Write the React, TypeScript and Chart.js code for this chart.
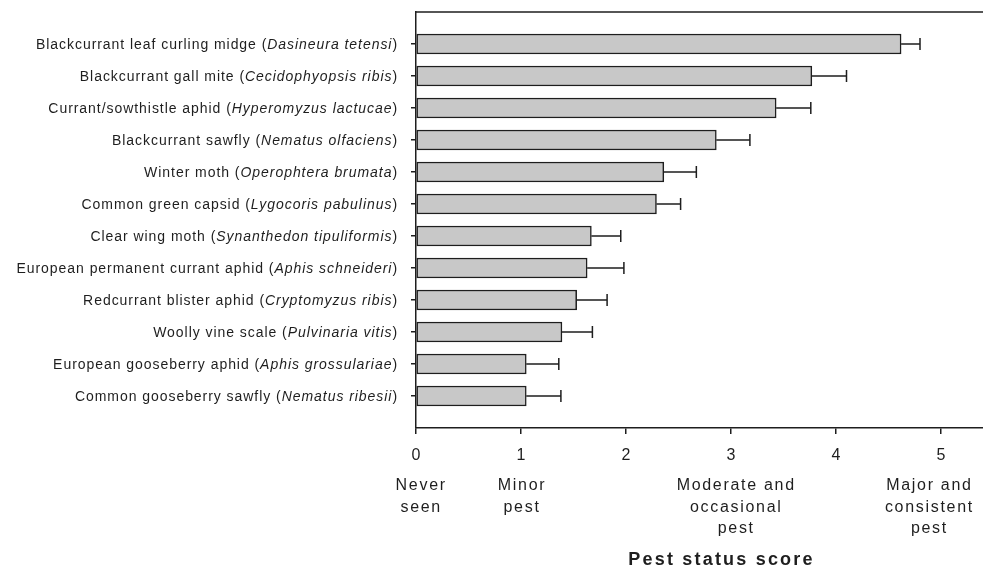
import { useEffect, useRef } from "react";
import { Chart, registerables } from "chart.js";

Chart.register(...registerables);

const commonNames = [
  "Blackcurrant leaf curling midge",
  "Blackcurrant gall mite",
  "Currant/sowthistle aphid",
  "Blackcurrant sawfly",
  "Winter moth",
  "Common green capsid",
  "Clear wing moth",
  "European permanent currant aphid",
  "Redcurrant blister aphid",
  "Woolly vine scale",
  "European gooseberry aphid",
  "Common gooseberry sawfly",
];
const speciesNames = [
  "Dasineura tetensi",
  "Cecidophyopsis ribis",
  "Hyperomyzus lactucae",
  "Nematus olfaciens",
  "Operophtera brumata",
  "Lygocoris pabulinus",
  "Synanthedon tipuliformis",
  "Aphis schneideri",
  "Cryptomyzus ribis",
  "Pulvinaria vitis",
  "Aphis grossulariae",
  "Nematus ribesii",
];
const scores = [4.62, 3.77, 3.43, 2.86, 2.36, 2.29, 1.67, 1.63, 1.53, 1.39, 1.05, 1.05];
const errors = [0.18, 0.33, 0.33, 0.32, 0.31, 0.23, 0.28, 0.35, 0.29, 0.29, 0.31, 0.33];
const xTickValues = [0, 1, 2, 3, 4, 5];
const descriptorLines = [
  ["Never", "seen"],
  ["Minor", "pest"],
  ["Moderate and", "occasional", "pest"],
  ["Major and", "consistent", "pest"],
];
const descriptorAt = [0.04, 1.0, 3.04, 4.88];
const axisTitle = "Pest status score";
const titleAt = 2.9;

const INK = "#1e1e1e";
const FONT = '"Liberation Sans", Arial, sans-serif';

export default function App() {
  const ref = useRef<HTMLCanvasElement | null>(null);

  useEffect(() => {
    const canvas = ref.current;
    if (!canvas) return;

    const decor = {
      id: "decor",
      afterDatasetsDraw(chart: any) {
        const ctx = chart.ctx;
        const xs = chart.scales.x;
        const ys = chart.scales.y;
        ctx.save();
        ctx.strokeStyle = INK;
        ctx.lineWidth = 1.5;
        scores.forEach((v, i) => {
          const x1 = xs.getPixelForValue(v);
          const x2 = xs.getPixelForValue(v + errors[i]);
          const y = ys.getPixelForValue(i + 1);
          ctx.beginPath();
          ctx.moveTo(x1, y);
          ctx.lineTo(x2, y);
          ctx.moveTo(x2, y - 6);
          ctx.lineTo(x2, y + 6);
          ctx.stroke();
        });
        ctx.restore();
      },
      afterDraw(chart: any) {
        const ctx = chart.ctx;
        const xs = chart.scales.x;
        const ys = chart.scales.y;
        const area = chart.chartArea;
        ctx.save();
        // top frame line
        ctx.strokeStyle = INK;
        ctx.lineWidth = 1.5;
        ctx.beginPath();
        ctx.moveTo(area.left, area.top);
        ctx.lineTo(area.right, area.top);
        ctx.stroke();

        // category labels with italic species names
        ctx.fillStyle = INK;
        ctx.textBaseline = "middle";
        ctx.textAlign = "left";
        (ctx as any).letterSpacing = "0.95px";
        const normal = `14px ${FONT}`;
        const italic = `italic 14px ${FONT}`;
        const rightEdge = area.left - 18;
        commonNames.forEach((name, i) => {
          const y = ys.getPixelForValue(i + 1) + 1;
          const a = name + " (";
          const b = speciesNames[i];
          const c = ")";
          ctx.font = normal;
          const wa = ctx.measureText(a).width;
          const wc = ctx.measureText(c).width;
          ctx.font = italic;
          const wb = ctx.measureText(b).width;
          let x = rightEdge - (wa + wb + wc);
          ctx.font = normal;
          ctx.fillText(a, x, y);
          x += wa;
          ctx.font = italic;
          ctx.fillText(b, x, y);
          x += wb;
          ctx.font = normal;
          ctx.fillText(c, x, y);
        });

        // descriptor labels under axis
        ctx.textAlign = "center";
        ctx.font = `16px ${FONT}`;
        (ctx as any).letterSpacing = "1.7px";
        descriptorLines.forEach((lines, k) => {
          const x = xs.getPixelForValue(descriptorAt[k]);
          lines.forEach((ln, j) => {
            ctx.fillText(ln, x + 1, 486 + j * 21.5);
          });
        });

        // axis title
        ctx.font = `bold 18px ${FONT}`;
        (ctx as any).letterSpacing = "2.2px";
        ctx.fillText(axisTitle, xs.getPixelForValue(titleAt) + 1, 560);
        ctx.restore();
      },
    };

    const chart = new Chart(canvas, {
      type: "bar",
      data: {
        datasets: [
          {
            data: scores.map((v, i) => ({ x: v, y: i + 1 })),
            backgroundColor: "#c8c8c8",
            borderColor: INK,
            borderWidth: 1.5,
            borderSkipped: false,
            barThickness: 20,
          },
        ],
      },
      options: {
        indexAxis: "y",
        responsive: false,
        animation: false,
        devicePixelRatio: 1,
        layout: { padding: { top: 12, right: 0, left: 0, bottom: 0 } },
        plugins: { legend: { display: false }, tooltip: { enabled: false } },
        scales: {
          x: {
            type: "linear",
            min: 0,
            max: 5.4,
            afterBuildTicks: (s: any) => {
              s.ticks = xTickValues.map((v) => ({ value: v }));
            },
            afterFit: (s: any) => {
              s.height = 576 - 12 - 416;
            },
            ticks: {
              color: INK,
              padding: 12,
              font: { family: FONT, size: 16 },
              maxRotation: 0,
              callback: (v: any) => String(v),
            },
            grid: {
              display: true,
              drawOnChartArea: false,
              drawTicks: true,
              tickLength: 6,
              color: INK,
              lineWidth: 1.5,
            },
            border: { display: true, color: INK, width: 1.5 },
          },
          y: {
            type: "linear",
            min: 0,
            max: 13,
            reverse: true,
            offset: false,
            afterBuildTicks: (s: any) => {
              s.ticks = scores.map((_, i) => ({ value: i + 1 }));
            },
            afterFit: (s: any) => {
              s.width = 416;
            },
            ticks: { display: false },
            grid: {
              display: true,
              offset: false,
              drawOnChartArea: false,
              drawTicks: true,
              tickLength: 5,
              color: INK,
              lineWidth: 1.5,
            },
            border: { display: true, color: INK, width: 1.5 },
          },
        },
      },
      plugins: [decor],
    });

    return () => chart.destroy();
  }, []);

  return (
    <div style={{ position: "absolute", left: 0, top: 0, width: 983, height: 576, background: "#fff" }}>
      <canvas ref={ref} width={983} height={576} style={{ display: "block" }} />
    </div>
  );
}
